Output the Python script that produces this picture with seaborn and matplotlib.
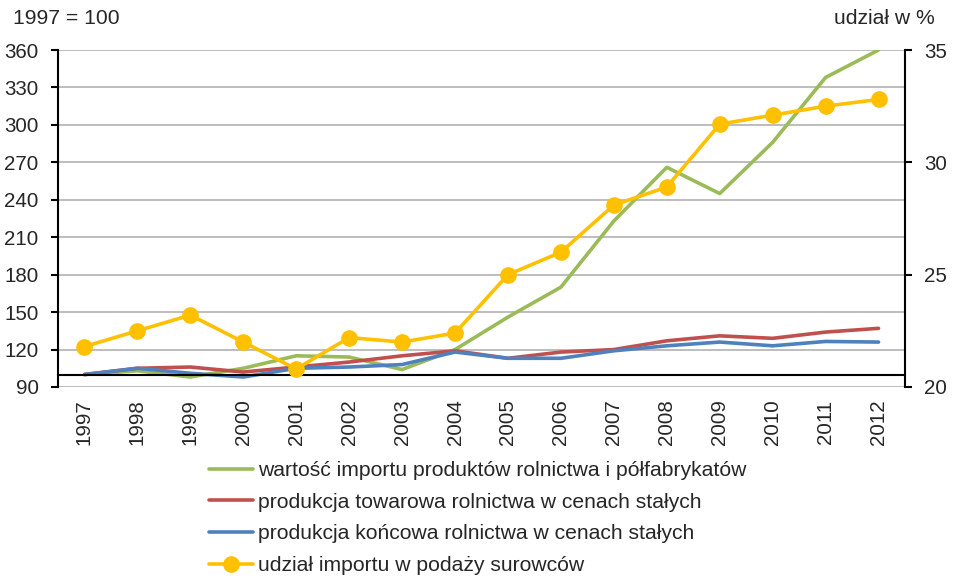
import matplotlib
matplotlib.use("Agg")
import matplotlib.pyplot as plt
import seaborn as sns
import numpy as np
import pandas as pd

years = [str(y) for y in range(1997, 2013)]
import_value = [100, 103, 98, 105, 115, 114, 104, 120, 146, 170, 223, 266, 245, 286, 338, 360]
prod_towarowa = [100, 105, 106, 102, 106, 110, 115, 119, 113, 118, 120, 127, 131, 129, 134, 137]
prod_koncowa = [100, 105, 101, 98, 105, 106, 108, 118, 113, 113, 119, 123, 126, 123, 126.5, 126]
import_share = [21.8, 22.5, 23.2, 22.0, 20.8, 22.2, 22.0, 22.4, 25.0, 26.0, 28.1, 28.9, 31.7, 32.1, 32.5, 32.8]

labels = ["wartość importu produktów rolnictwa i półfabrykatów",
          "produkcja towarowa rolnictwa w cenach stałych",
          "produkcja końcowa rolnictwa w cenach stałych",
          "udział importu w podaży surowców"]
colors = ["#9BBB59", "#C0504D", "#4F81BD", "#FFC000"]

sns.set_style("white")
plt.rcParams['font.family'] = ['Liberation Sans', 'DejaVu Sans']
txt = "#262626"
fs = 14.8
fs_leg = 15.2

df = pd.DataFrame({"x": np.arange(len(years)), "g": import_value, "r": prod_towarowa,
                   "b": prod_koncowa, "y": import_share})

fig = plt.figure(figsize=(9.54, 5.77), dpi=100)
ax = fig.add_axes([58/954, 1-387/577, (905-58)/954, (387-50)/577])
ax2 = ax.twinx()

lw = 2.6
sns.lineplot(data=df, x="x", y="g", ax=ax, color=colors[0], lw=lw, label=labels[0], legend=False)
sns.lineplot(data=df, x="x", y="r", ax=ax, color=colors[1], lw=lw, label=labels[1], legend=False)
sns.lineplot(data=df, x="x", y="b", ax=ax, color=colors[2], lw=lw, label=labels[2], legend=False)
sns.lineplot(data=df, x="x", y="y", ax=ax2, color=colors[3], lw=lw, marker="o",
             markersize=12, markeredgewidth=0, label=labels[3], legend=False)

ax.set_xlim(-0.5, len(years) - 0.5)
ax.set_ylim(90, 360)
ax.set_yticks(np.arange(90, 361, 30))
ax2.set_ylim(20, 35)
ax2.set_yticks([20, 25, 30, 35])

ax.grid(axis="y", color="#BDBDBD", lw=1.4)
ax.set_axisbelow(True)
for a in (ax, ax2):
    a.set_xlabel("")
    a.set_ylabel("")
    a.spines["top"].set_visible(False)
ax.spines["right"].set_visible(False)
ax2.spines["left"].set_visible(False)
ax2.spines["bottom"].set_visible(False)
ax.spines["left"].set_color("black")
ax.spines["left"].set_linewidth(1.5)
ax2.spines["right"].set_color("black")
ax2.spines["right"].set_linewidth(1.5)

ax.spines["bottom"].set_position(("data", 100))
ax.spines["bottom"].set_color("black")
ax.spines["bottom"].set_linewidth(1.5)
ax.set_xticks(np.arange(len(years)))
ax.set_xticklabels(years, rotation=90, fontsize=fs, color=txt)
ax.set_xticks(np.arange(len(years) + 1) - 0.5, minor=True)
ax.tick_params(axis="x", which="major", length=0, pad=18)
ax.tick_params(axis="x", which="minor", length=5, width=1.5, direction="out", color="black")
ax.tick_params(axis="y", length=5, width=1.5, direction="out", color="black", labelsize=fs,
               labelcolor=txt, pad=9)
ax2.tick_params(axis="y", length=5, width=1.5, direction="out", color="black", labelsize=fs,
                labelcolor=txt, pad=9)
ax.set_zorder(1)
ax.patch.set_visible(False)
ax2.set_zorder(2)

fig.text(13/954, 1-18/577, "1997 = 100", fontsize=15.2, color=txt, va="center", ha="left")
fig.text(935/954, 1-18/577, "udział w %", fontsize=15.2, color=txt, va="center", ha="right")

h1, l1 = ax.get_legend_handles_labels()
h2, l2 = ax2.get_legend_handles_labels()
fig.legend(h1 + h2, l1 + l2, loc="upper left", bbox_to_anchor=(209/954, 1-461/577),
           frameon=False, fontsize=fs_leg, handlelength=2.1, handletextpad=0.2,
           labelspacing=0.6, labelcolor=txt, borderaxespad=0, borderpad=0)

fig.savefig("out.png", dpi=100)
